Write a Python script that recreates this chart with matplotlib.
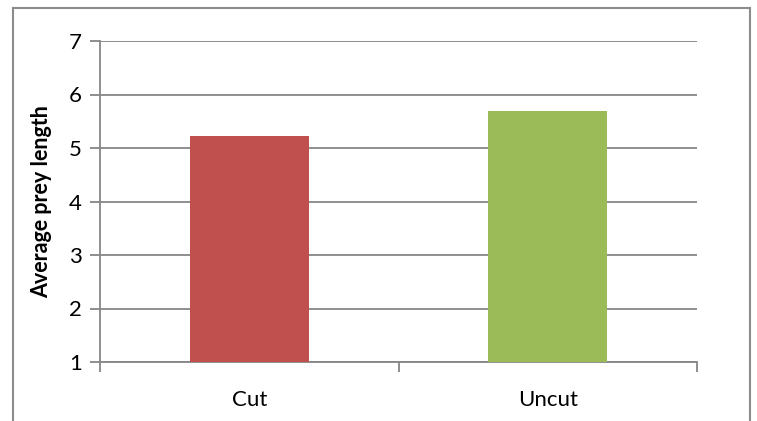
import matplotlib
matplotlib.use("Agg")
import matplotlib.pyplot as plt
from matplotlib.lines import Line2D
import numpy as np

categories = ["Cut", "Uncut"]
values = [5.23, 5.685]
bar_colors = ["#C0504D", "#9BBB59"]
y_ticks = [1, 2, 3, 4, 5, 6, 7]
y_label = "Average prey length"

plt.rcParams["font.family"] = ["Lato", "DejaVu Sans"]

W, H = 757, 421
fig = plt.figure(figsize=(W / 100, H / 100), dpi=100)
ax = fig.add_axes([100 / W, 1 - 362 / H, (697 - 100) / W, (362 - 41) / H])

grid_c = "#868686"
x = np.arange(len(categories))
ax.bar(x, np.array(values) - y_ticks[0], bottom=y_ticks[0], width=0.4,
       color=bar_colors, zorder=3)

ax.set_xlim(-0.5, len(categories) - 0.5)
ax.set_ylim(y_ticks[0], y_ticks[-1])
ax.set_yticks(y_ticks)
ax.set_xticks(x)
ax.set_xticklabels(categories)
ax.set_xticks(np.arange(len(categories) + 1) - 0.5, minor=True)

ax.yaxis.grid(True, color=grid_c, linewidth=1.3, zorder=0)
ax.set_axisbelow(True)
for s in ["top", "right"]:
    ax.spines[s].set_visible(False)
for s in ["left", "bottom"]:
    ax.spines[s].set_color(grid_c)
    ax.spines[s].set_linewidth(1.3)

ax.tick_params(axis="y", length=7, width=1.3, color=grid_c, labelsize=16, pad=6)
ax.tick_params(axis="x", which="major", length=0, labelsize=16, pad=20)
ax.tick_params(axis="x", which="minor", length=7, width=1.3, color=grid_c)

ax.set_ylabel(y_label, fontsize=15.5, fontweight="bold", labelpad=12)

# outer chart frame (open at the bottom)
frame_c = "#8C8C8C"
fx0, fx1, fy0 = 13 / W, 750 / W, 1 - 8 / H
for xs, ys in [([fx0, fx0], [0, fy0]), ([fx0, fx1], [fy0, fy0]), ([fx1, fx1], [fy0, 0])]:
    fig.add_artist(Line2D(xs, ys, color=frame_c, linewidth=1.5, transform=fig.transFigure))

fig.savefig("out.png", dpi=100)
